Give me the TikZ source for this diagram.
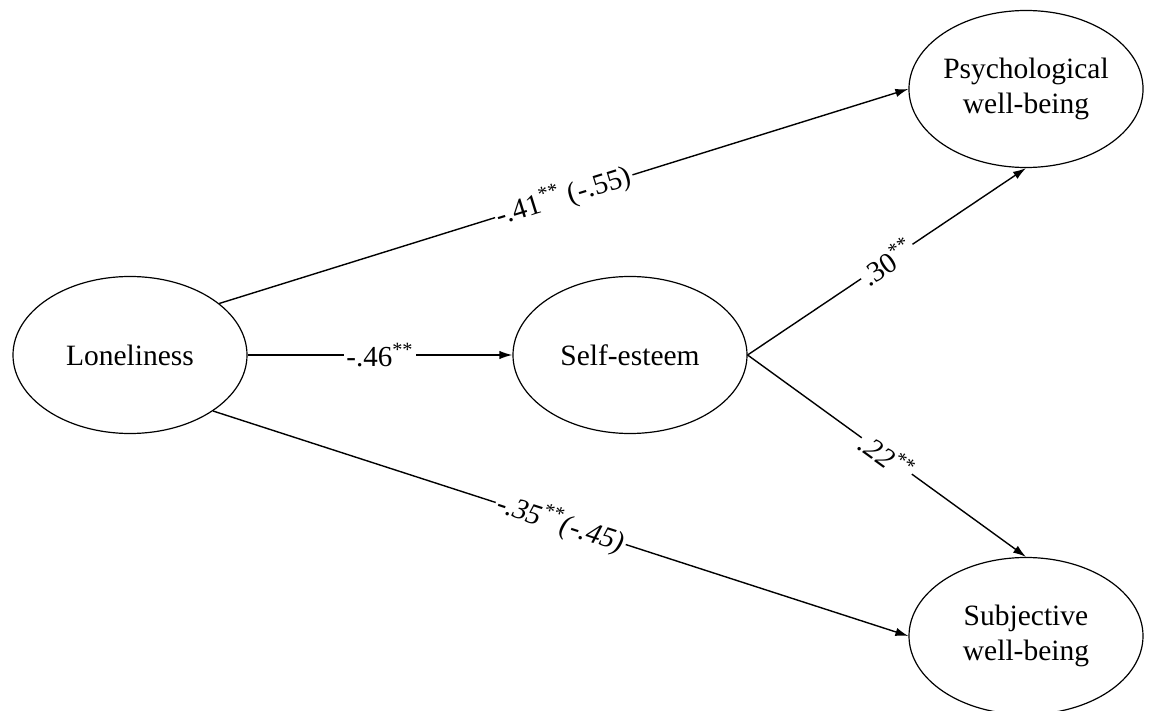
\documentclass[tikz,border=0pt]{standalone}
\usepackage{fontspec}
\setmainfont{Liberation Serif}
\usetikzlibrary{arrows.meta,shapes.geometric}
\begin{document}
\begin{tikzpicture}[x=0.5pt,y=-0.5pt,
  latent/.style={draw, ellipse, line width=0.6pt, minimum width=117pt, minimum height=78.5pt,
    inner sep=0pt, align=center, font=\fontsize{14.75}{17.5}\selectfont},
  pathline/.style={line width=0.7pt, -{Latex[length=6.5pt,width=4.2pt]}},
  coef/.style={fill=white, inner sep=1pt, sloped, font=\fontsize{14.5}{17}\selectfont}]
\useasboundingbox (0,0) rectangle (1152,711);
\node[latent] (lon) at (130,355) {Loneliness};
\node[latent] (se) at (630,355) {Self-esteem};
\node[latent] (pwb) at (1026,89) {Psychological\\well-being};
\node[latent] (swb) at (1026,636) {Subjective\\well-being};
\draw[pathline] (lon.30.6) -- node[coef] {-.41\textsuperscript{**} (-.55)} (pwb.west);
\draw[pathline] (lon.east) -- node[coef] {-.46\textsuperscript{**}} (se.west);
\draw[pathline] (lon.-34.8) -- node[coef, font=\fontsize{14.5}{17}\selectfont\itshape] {-.35\textsuperscript{**}(-.45)} (swb.west);
\draw[pathline] (se.east) -- node[coef] {.30\textsuperscript{**}} (pwb.south);
\draw[pathline] (se.east) -- node[coef, font=\fontsize{14.5}{17}\selectfont\itshape] {.22\textsuperscript{**}} (swb.north);
\end{tikzpicture}
\end{document}
